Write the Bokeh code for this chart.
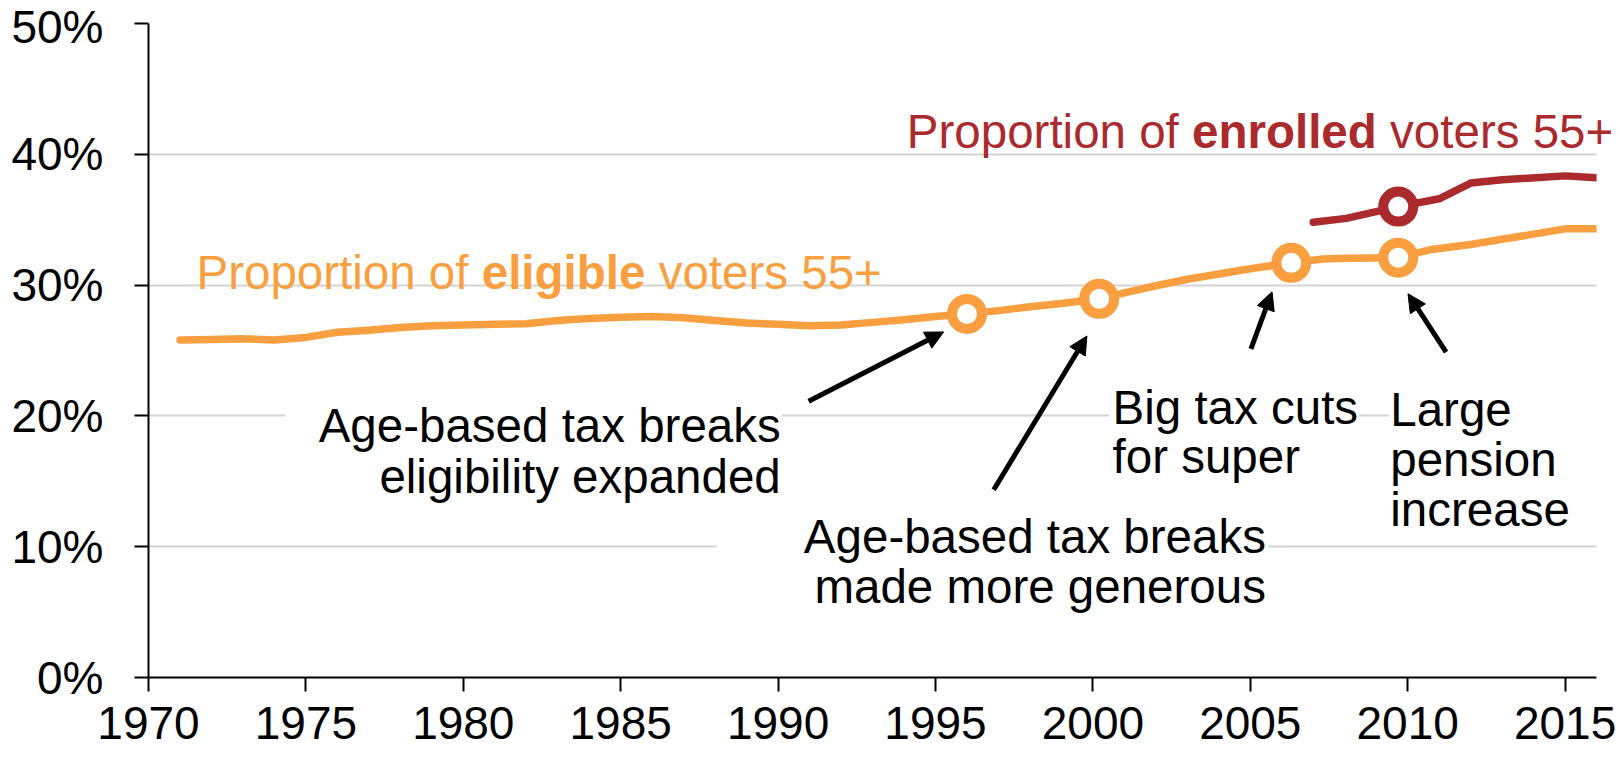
from bokeh.plotting import figure
from bokeh.models import (FixedTicker, Label, Arrow, NormalHead, BoxAnnotation, Range1d)
from bokeh.embed import file_html
from bokeh.resources import INLINE

# ---------------- data ----------------
eligible_years = [1971, 1972, 1973, 1974, 1975, 1976, 1977, 1978, 1979, 1980,
                  1981, 1982, 1983, 1984, 1985, 1986, 1987, 1988, 1989, 1990,
                  1991, 1992, 1993, 1994, 1995, 1996, 1997, 1998, 1999, 2000.2,
                  2001, 2002, 2003, 2004, 2005, 2006.3, 2007.3, 2008, 2009.7,
                  2010.7, 2012, 2013, 2014, 2015, 2016]
eligible_share = [25.8, 25.85, 25.9, 25.8, 26.0, 26.4, 26.55, 26.75, 26.9, 26.95,
                  27.0, 27.05, 27.3, 27.45, 27.55, 27.6, 27.5, 27.3, 27.1, 27.0,
                  26.9, 26.95, 27.15, 27.35, 27.6, 27.8, 28.05, 28.35, 28.6, 28.95,
                  29.4, 29.95, 30.45, 30.85, 31.25, 31.7, 32.0, 32.05, 32.1,
                  32.7, 33.1, 33.5, 33.9, 34.3, 34.3]

enrolled_years = [2007.0, 2008.05, 2009.7, 2011.0, 2012.0, 2013.0, 2015.0, 2016.0]
enrolled_share = [34.8, 35.1, 36.0, 36.6, 37.8, 38.05, 38.35, 38.2]

eligible_marker_years = [1996.0, 2000.2, 2006.3, 2009.7]
eligible_marker_share = [27.8, 28.95, 31.7, 32.1]
enrolled_marker_years = [2009.7]
enrolled_marker_share = [36.0]

x_ticks = [1970, 1975, 1980, 1985, 1990, 1995, 2000, 2005, 2010, 2015]
x_tick_labels = ["1970", "1975", "1980", "1985", "1990", "1995", "2000", "2005", "2010", "2015"]
y_ticks = [0, 10, 20, 30, 40, 50]
y_tick_labels = ["0%", "10%", "20%", "30%", "40%", "50%"]

ORANGE = "#F99F40"
RED = "#AA2A2D"
FONT = "Liberation Sans"
FS = "47.5px"

X_START, X_END = 1970, 2016
# frame runs to the right edge of the canvas so that the red label is not clipped;
# the axis line and the grid are stopped at X_END
X_VIEW_END = 2016.76

# ---------------- figure ----------------
p = figure(width=1620, height=758, x_range=Range1d(X_START, X_VIEW_END), y_range=Range1d(0, 50),
           output_backend="svg", toolbar_location=None,
           min_border_left=148, min_border_right=0, min_border_top=23, min_border_bottom=81)
p.outline_line_color = None
p.background_fill_color = "white"
p.border_fill_color = "white"

p.xgrid.visible = False
p.ygrid.ticker = FixedTicker(ticks=y_ticks)
p.ygrid.grid_line_color = "#D4D4D4"
p.ygrid.grid_line_width = 2

for ax in (p.xaxis[0], p.yaxis[0]):
    ax.axis_line_color = "black"
    ax.axis_line_width = 2
    ax.major_tick_line_color = "black"
    ax.major_tick_line_width = 2
    ax.major_tick_out = 14
    ax.major_tick_in = 0
    ax.minor_tick_out = 0
    ax.minor_tick_in = 0
    ax.major_label_text_font = FONT
    ax.major_label_text_font_size = "46px"
    ax.major_label_text_color = "black"

p.xaxis.ticker = FixedTicker(ticks=x_ticks)
p.xaxis.bounds = (X_START, X_END)
p.xaxis.major_label_overrides = {t: l for t, l in zip(x_ticks, x_tick_labels)}
p.xaxis.major_label_standoff = 15
p.yaxis.ticker = FixedTicker(ticks=y_ticks)
p.yaxis.major_label_overrides = {t: l for t, l in zip(y_ticks, y_tick_labels)}
p.yaxis.major_label_standoff = 31

# blank strip right of the last year (hides grid there)
p.add_layout(BoxAnnotation(left=X_END, fill_color="white", fill_alpha=1.0, line_color=None))

# ---------------- white boxes behind annotation texts ----------------
for (l, r, t, b) in [(1974.35, 1990.12, 22.8, 14.5),
                     (1988.05, 2005.56, 13.75, 5.9),
                     (2000.51, 2008.45, 23.6, 15.9),
                     (2009.41, 2016.0, 23.6, 12.06)]:
    p.add_layout(BoxAnnotation(left=l, right=r, top=t, bottom=b,
                               fill_color="white", fill_alpha=1.0, line_color=None))

# ---------------- series ----------------
p.line(eligible_years, eligible_share, line_color=ORANGE, line_width=7.5,
       line_cap="round", line_join="round")
p.line(enrolled_years, enrolled_share, line_color=RED, line_width=7.5,
       line_cap="round", line_join="round")
p.scatter(eligible_marker_years, eligible_marker_share, size=30, fill_color="white",
          line_color=ORANGE, line_width=10)
p.scatter(enrolled_marker_years, enrolled_marker_share, size=30, fill_color="white",
          line_color=RED, line_width=10)

# ---------------- series labels ----------------
def lab(x, y, text, color="black", align="left", style="normal"):
    p.add_layout(Label(x=x, y=y, text=text, text_font=FONT, text_font_size=FS,
                       text_color=color, text_align=align, text_baseline="alphabetic",
                       text_font_style=style, level="overlay"))

lab(1971.525, 30.95, "Proportion of", ORANGE)
lab(1980.586, 30.95, "eligible", ORANGE, style="bold")
lab(1986.207, 30.95, "voters 55+", ORANGE)

lab(1994.089, 41.76, "Proportion of", RED)
lab(2003.149, 41.76, "enrolled", RED, style="bold")
lab(2009.441, 41.76, "voters 55+", RED)

# ---------------- event annotations ----------------
lab(1990.085, 19.28, "Age-based tax breaks", align="right")
lab(1990.085, 15.36, "eligibility expanded", align="right")
lab(2005.497, 10.78, "Age-based tax breaks", align="right")
lab(2005.497, 6.99, "made more generous", align="right")
lab(2000.625, 20.64, "Big tax cuts")
lab(2000.625, 16.92, "for super")
lab(2009.447, 20.51, "Large")
lab(2009.447, 16.67, "pension")
lab(2009.447, 12.88, "increase")

for (xs, ys, xe, ye) in [(1990.97, 21.12, 1995.26, 26.42),
                         (1996.85, 14.36, 1999.81, 26.11),
                         (2005.02, 25.12, 2005.69, 29.49),
                         (2011.22, 24.88, 2010.01, 29.34)]:
    p.add_layout(Arrow(end=NormalHead(size=18, fill_color="black", line_color="black", line_width=1),
                       x_start=xs, y_start=ys, x_end=xe, y_end=ye,
                       line_color="black", line_width=5))

open("out.html", "w").write(file_html(p, INLINE))
